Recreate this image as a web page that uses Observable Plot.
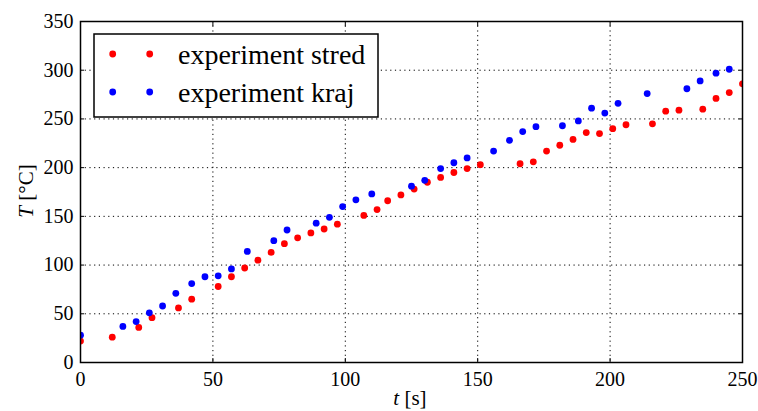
<!DOCTYPE html>
<html>
<head>
<meta charset="utf-8">
<script src="https://cdn.jsdelivr.net/npm/d3@7"></script>
<script src="https://cdn.jsdelivr.net/npm/@observablehq/plot@0.6"></script>
<style>
  html, body { margin: 0; padding: 0; background: #fff; }
  #chart svg { display: block; }
</style>
</head>
<body>
<div id="chart"></div>
<script>
// Series "experiment stred" (red)
const stredT = [0,12,22,27,37,42,52,57,62,67,72,77,82,87,92,97,107,112,116,121,126,131,136,141,146,151,166,171,176,181,186,191,196,201,206,216,221,226,235,240,245,250];
const stredV = [22,26,36,46,56,65,78,88,97,105,113,122,128,133,137,142,151,157,166,172,178,185,190,195,199,203,204,206,217,223,229,236,235,240,244,245,258,259,260,271,277,286];
// Series "experiment kraj" (blue)
const krajT = [0,16,21,26,31,36,42,47,52,57,63,73,78,89,94,99,104,110,125,130,136,141,146,156,162,167,172,182,188,193,198,203,214,229,234,240,245];
const krajV = [28,37,42,51,58,71,81,88,89,96,114,125,136,143,149,160,167,173,181,187,199,205,210,217,228,237,242,243,248,261,256,266,276,281,289,297,301];
// Ticks
const xTicks = [0,50,100,150,200,250];
const yTicks = [0,50,100,150,200,250,300,350];
const seriesNames = ["experiment stred", "experiment kraj"];
const seriesColors = ["#ff0000", "#0000ff"];

const stred = stredT.map((t, i) => ({t, T: stredV[i]}));
const kraj = krajT.map((t, i) => ({t, T: krajV[i]}));

const FONT = "'Liberation Serif', 'DejaVu Serif', serif";
const tickFmt = d => String(d);
const empty = () => "";

const plot = Plot.plot({
  width: 758,
  height: 411,
  marginLeft: 80,
  marginRight: 16,
  marginTop: 21,
  marginBottom: 49,
  style: {fontFamily: FONT, fontSize: "20px", background: "#fff", color: "#000"},
  x: {domain: [0, 250]},
  y: {domain: [0, 350]},
  marks: [
    Plot.gridX(xTicks.slice(1, -1), {stroke: "#000", strokeOpacity: 1, strokeDasharray: "1.2,3.5", strokeWidth: 1}),
    Plot.gridY(yTicks.slice(1, -1), {stroke: "#000", strokeOpacity: 1, strokeDasharray: "1.2,3.5", strokeWidth: 1}),
    Plot.dot(stred, {x: "t", y: "T", r: 3.4, fill: seriesColors[0], stroke: "none", clip: true}),
    Plot.dot(kraj, {x: "t", y: "T", r: 3.4, fill: seriesColors[1], stroke: "none", clip: true}),
    // inward ticks on all four sides
    Plot.axisX(xTicks, {anchor: "bottom", tickSize: 4, dy: -4, tickFormat: empty, label: null, stroke: "#000"}),
    Plot.axisX(xTicks, {anchor: "top", tickSize: 4, dy: 4, tickFormat: empty, label: null, stroke: "#000"}),
    Plot.axisY(yTicks, {anchor: "left", tickSize: 4, dx: 4, tickFormat: empty, label: null, stroke: "#000"}),
    Plot.axisY(yTicks, {anchor: "right", tickSize: 4, dx: -4, tickFormat: empty, label: null, stroke: "#000"}),
    // tick labels
    Plot.axisX(xTicks, {anchor: "bottom", tickSize: 0, tickPadding: 9, tickFormat: tickFmt, label: null, fontSize: 20, fill: "#000"}),
    Plot.axisY(yTicks, {anchor: "left", tickSize: 0, tickPadding: 7, tickFormat: tickFmt, label: null, fontSize: 20, fill: "#000"}),
    Plot.frame({stroke: "#000", strokeWidth: 1.5})
  ]
});

document.getElementById("chart").appendChild(plot);

// Axis titles and legend
const svg = d3.select(plot);
const ylab = svg.append("text")
  .attr("transform", "translate(26,191) rotate(-90)")
  .attr("text-anchor", "middle")
  .attr("dominant-baseline", "central")
  .style("font-family", FONT).style("font-size", "21px").attr("fill", "#000");
ylab.append("tspan").style("font-style", "italic").text("T");
ylab.append("tspan").text(" [°C]");

const xlab = svg.append("text")
  .attr("x", 410).attr("y", 405)
  .attr("text-anchor", "middle")
  .style("font-family", FONT).style("font-size", "21px").attr("fill", "#000");
xlab.append("tspan").style("font-style", "italic").text("t");
xlab.append("tspan").text(" [s]");

const leg = svg.append("g");
leg.append("rect").attr("x", 94).attr("y", 34).attr("width", 284).attr("height", 83)
  .attr("fill", "#fff").attr("stroke", "#000").attr("stroke-width", 1.5);
seriesNames.forEach((name, i) => {
  const cy = 54 + i * 38;
  [112.7, 149.7].forEach(cx => leg.append("circle").attr("cx", cx).attr("cy", cy).attr("r", 3.4).attr("fill", seriesColors[i]));
  leg.append("text").attr("x", 178).attr("y", cy + 9.5)
    .attr("text-anchor", "start")
    .style("font-family", FONT).style("font-size", "28px").attr("fill", "#000").text(name);
});
</script>
</body>
</html>
